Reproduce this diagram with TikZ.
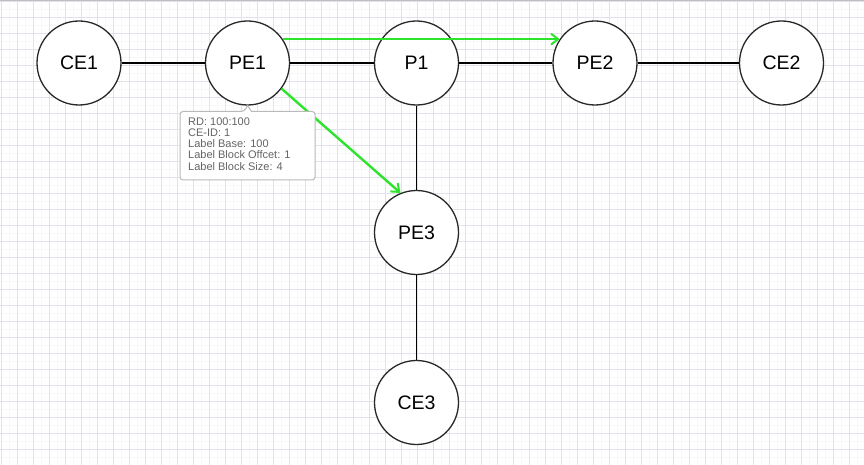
\documentclass[tikz,border=0pt]{standalone}
\usepackage{fontspec}
\setmainfont{Liberation Sans}
\usetikzlibrary{arrows.meta}
\definecolor{gridmaj}{RGB}{226,226,234}
\definecolor{gridmin}{RGB}{248,248,250}
\definecolor{ringcol}{RGB}{40,40,40}
\definecolor{flowgreen}{RGB}{45,228,45}
\definecolor{tipgray}{RGB}{185,185,185}
\definecolor{tiptext}{RGB}{100,100,100}
\tikzset{
  router/.style={circle, draw=ringcol, line width=1.3pt, fill=white, minimum size=84pt, inner sep=0pt,
    font=\fontsize{19.5}{23}\selectfont},
  link/.style={draw=black, line width=1.3pt},
  flow/.style={draw=flowgreen, line width=2.4pt, -{Straight Barb[length=7pt,width=11pt,line width=2pt]}},
  tipbox/.style={draw=tipgray, line width=1pt, fill=white},
  tiptxt/.style={anchor=north west, inner sep=0pt, align=left, text=tiptext,
    font=\fontsize{11}{11.2}\selectfont}
}
\begin{document}
\begin{tikzpicture}[x=1pt,y=-1pt]
\useasboundingbox (0,0) rectangle (864,465);
\fill[white] (0,0) rectangle (864,465);
% grid
\foreach \i in {0,...,54} {\draw[gridmin, line width=0.6pt] (9+16*\i,0) -- (9+16*\i,465);}
\foreach \j in {0,...,29} {\draw[gridmin, line width=0.6pt] (0,9+16*\j) -- (864,9+16*\j);}
\foreach \i in {0,...,54} {\draw[gridmaj, line width=0.8pt] (1+16*\i,0) -- (1+16*\i,465);}
\foreach \j in {0,...,29} {\draw[gridmaj, line width=0.8pt] (0,1+16*\j) -- (864,1+16*\j);}
\draw[gray!50, line width=1pt] (0,0.5) -- (864,0.5);
% nodes
\node[router] (CE1) at (79,63) {CE1};
\node[router] (PE1) at (247.5,63) {PE1};
\node[router] (P1)  at (416.5,63) {P1};
\node[router] (PE2) at (595,63) {PE2};
\node[router] (CE2) at (781.5,63) {CE2};
\node[router] (PE3) at (416.5,232.5) {PE3};
\node[router] (CE3) at (416.5,402.5) {CE3};
% links
\draw[link] (CE1) -- (PE1);
\draw[link] (PE1) -- (P1);
\draw[link] (P1) -- (PE2);
\draw[link] (PE2) -- (CE2);
\draw[link] (P1) -- (PE3);
\draw[link] (PE3) -- (CE3);
% flows
\draw[flow] (PE1.34) -- (PE2.146);
\draw[flow] (PE1.-37) -- (PE3.112);
% tooltip
\draw[tipbox, rounded corners=3pt] (180,180) -- (180,111.5) -- (244,111.5) [sharp corners] -- (247.7,105.5) -- (251.5,111.5) [rounded corners=3pt] -- (315,111.5) -- (315,180) -- cycle;
\node[tiptxt] (info) at (188,117.5) {RD: 100:100\\CE-ID: 1\\Label Base: 100\\Label Block Offcet: 1\\Label Block Size: 4};
\end{tikzpicture}
\end{document}
